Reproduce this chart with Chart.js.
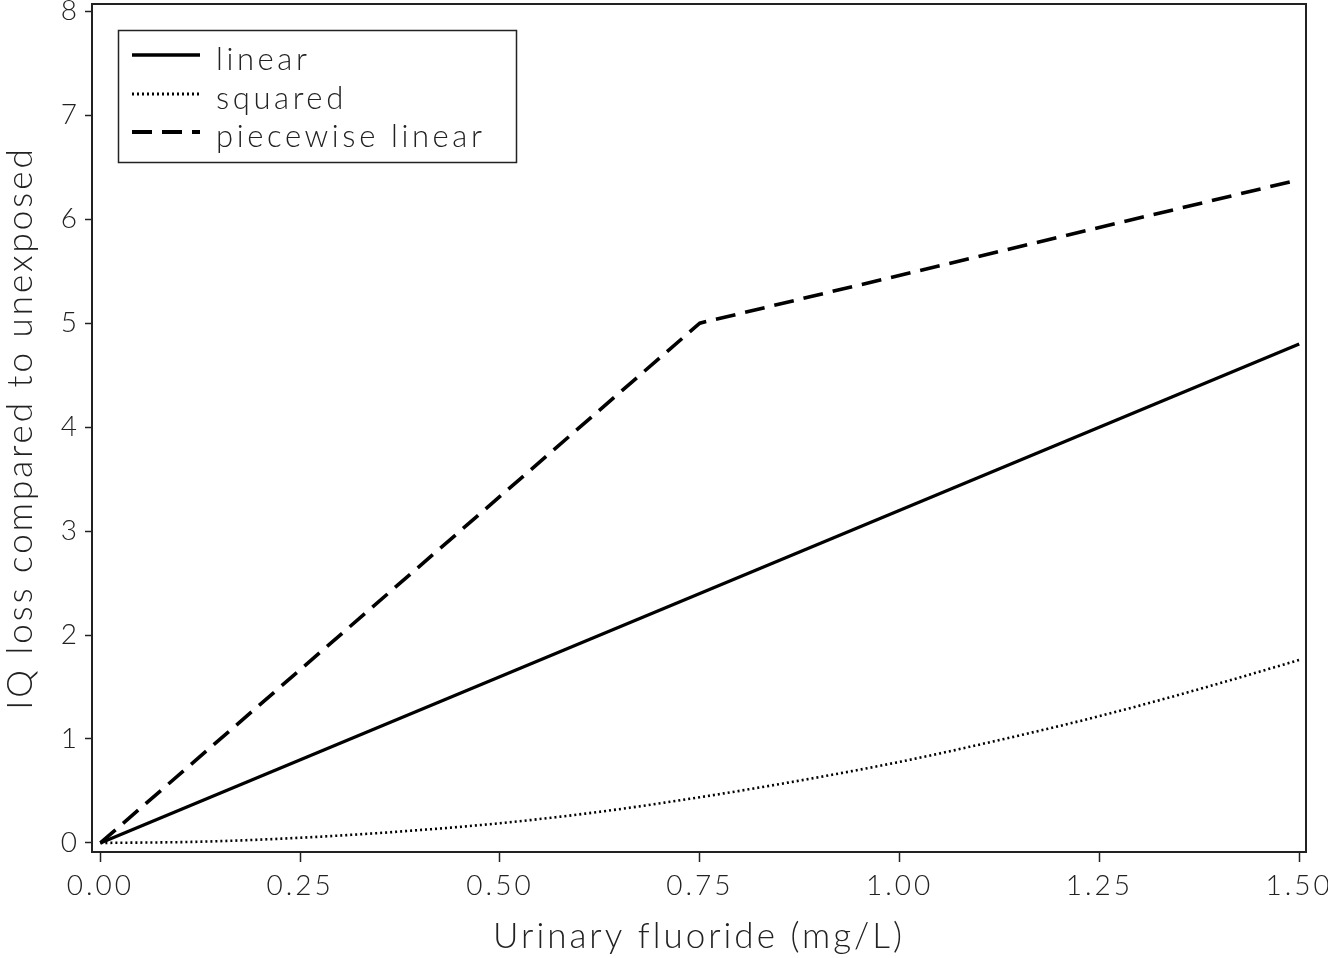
<!DOCTYPE html>
<html>
<head>
<meta charset="utf-8">
<script src="https://cdn.jsdelivr.net/npm/chart.js@4.4.1/dist/chart.umd.min.js"></script>
<style>
  html, body { margin: 0; padding: 0; background: #fff; }
  #wrap { width: 1328px; height: 958px; }
</style>
</head>
<body>
<div id="wrap"><canvas id="chart" width="1328" height="958"></canvas></div>
<script>
// values
const xTicks = [0, 0.25, 0.5, 0.75, 1.0, 1.25, 1.5];
const yTicks = [0, 1, 2, 3, 4, 5, 6, 7, 8];

const linearX = [0, 1.5];
const linearY = [0, 4.8];

const squaredX = [0, 0.125, 0.25, 0.375, 0.5, 0.625, 0.75, 0.875, 1.0, 1.125, 1.25, 1.375, 1.5];
const squaredY = [0, 0.012, 0.05, 0.11, 0.19, 0.30, 0.44, 0.60, 0.78, 0.99, 1.22, 1.48, 1.76];

const pieceX = [0, 0.75, 1.5];
const pieceY = [0, 5.0, 6.38];

const seriesNames = ['linear', 'squared', 'piecewise linear'];

const FONT = 'Lato, "DejaVu Sans", sans-serif';
const TEXT = '#222';

function pts(xs, ys){ return xs.map((x,i)=>({x:x, y:ys[i]})); }

// the original font is much wider, so space the letters out
const spacingPlugin = {
  id: 'spacing',
  beforeUpdate(chart){ chart.ctx.letterSpacing = '3px'; },
  beforeDraw(chart){ chart.ctx.letterSpacing = '3px'; }
};

// frame + boxed legend like the original
const framePlugin = {
  id: 'frame',
  afterDraw(chart){
    const {ctx, chartArea:a} = chart;
    ctx.save();
    ctx.strokeStyle = '#222';
    ctx.lineWidth = 2;
    ctx.strokeRect(a.left, a.top, a.right - a.left, a.bottom - a.top);

    // legend
    ctx.lineWidth = 1.5;
    ctx.strokeRect(118.5, 30.5, 398, 132);
    const rows = [55, 94, 132];
    chart.data.datasets.forEach((ds, i)=>{
      ctx.beginPath();
      ctx.setLineDash(ds.borderDash || []);
      ctx.lineWidth = ds.borderWidth + 0.5;
      ctx.strokeStyle = '#000';
      ctx.moveTo(132, rows[i]);
      ctx.lineTo(200, rows[i]);
      ctx.stroke();
      ctx.setLineDash([]);
      ctx.fillStyle = TEXT;
      ctx.font = '300 31px ' + FONT;
      ctx.letterSpacing = '3.6px';
      ctx.textBaseline = 'alphabetic';
      ctx.fillText(ds.label, 216, rows[i] + 15);
    });
    ctx.restore();
  }
};

new Chart(document.getElementById('chart'), {
  type: 'line',
  data: {
    datasets: [
      { label: seriesNames[0], data: pts(linearX, linearY), borderColor: '#000', borderWidth: 3.2, pointRadius: 0, tension: 0 },
      { label: seriesNames[1], data: pts(squaredX, squaredY), borderColor: '#000', borderWidth: 2.6, borderDash: [2, 3], pointRadius: 0, cubicInterpolationMode: 'monotone' },
      { label: seriesNames[2], data: pts(pieceX, pieceY), borderColor: '#000', borderWidth: 3.6, borderDash: [20, 10], pointRadius: 0, tension: 0 }
    ]
  },
  options: {
    responsive: false,
    animation: false,
    layout: { padding: { top: 4, right: 22, left: 0, bottom: 0 } },
    plugins: { legend: { display: false }, tooltip: { enabled: false } },
    scales: {
      x: {
        type: 'linear',
        min: -0.0105, max: 1.5085,
        afterBuildTicks: s => { s.ticks = xTicks.map(v=>({value:v})); },
        afterFit: s => { s.height = 106; s.paddingLeft = 0; s.paddingRight = 0; },
        grid: { display: true, drawOnChartArea: false, tickLength: 10, tickColor: '#222', tickWidth: 1.5 },
        border: { display: false },
        ticks: { color: TEXT, font: { family: FONT, size: 28, weight: 300 }, padding: 7, maxRotation: 0,
                 callback: v => v.toFixed(2) },
        title: { display: true, text: 'Urinary fluoride (mg/L)', color: TEXT,
                 font: { family: FONT, size: 35, weight: 300 }, padding: { top: 4, bottom: 0 } }
      },
      y: {
        type: 'linear',
        min: -0.087, max: 8.07,
        afterBuildTicks: s => { s.ticks = yTicks.map(v=>({value:v})); },
        afterFit: s => { s.width = 92; s.paddingTop = 0; s.paddingBottom = 0; },
        grid: { display: true, drawOnChartArea: false, tickLength: 7, tickColor: '#222', tickWidth: 1.5 },
        border: { display: false },
        ticks: { color: TEXT, font: { family: FONT, size: 28, weight: 300 }, padding: 5 },
        title: { display: true, text: 'IQ loss compared to unexposed', color: TEXT,
                 font: { family: FONT, size: 35, weight: 300 }, padding: { top: 0, bottom: 0 } }
      }
    }
  },
  plugins: [spacingPlugin, framePlugin]
});
</script>
</body>
</html>
